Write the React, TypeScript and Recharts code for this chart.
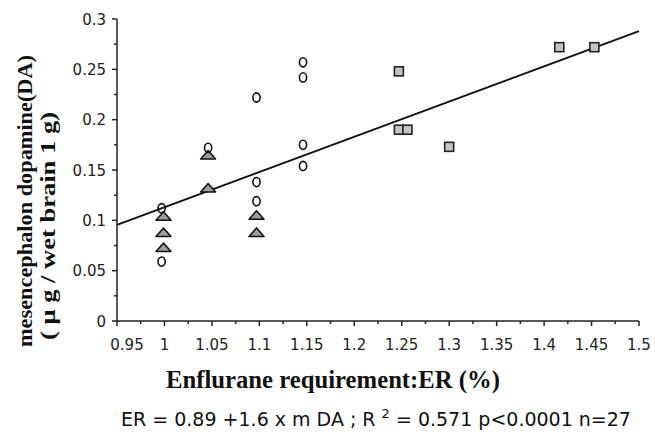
import { ScatterChart, Scatter, XAxis, YAxis, ReferenceLine } from 'recharts';

// open circles
const circleER = [0.997, 0.997, 1.046, 1.097, 1.097, 1.097, 1.146, 1.146, 1.146, 1.146];
const circleDA = [0.112, 0.059, 0.172, 0.222, 0.138, 0.119, 0.257, 0.242, 0.175, 0.154];

// grey triangles
const triangleER = [0.999, 0.999, 0.999, 1.046, 1.046, 1.097, 1.097];
const triangleDA = [0.104, 0.088, 0.073, 0.165, 0.132, 0.105, 0.088];

// grey squares
const squareER = [1.247, 1.247, 1.256, 1.3, 1.416, 1.453];
const squareDA = [0.248, 0.19, 0.19, 0.173, 0.272, 0.272];

// regression line end points
const fitER = [0.95, 1.5];
const fitDA = [0.0955, 0.288];

const xMajorTicks = [0.95, 1, 1.05, 1.1, 1.15, 1.2, 1.25, 1.3, 1.35, 1.4, 1.45, 1.5];
const xTickLabels = ['0.95', '1', '1.05', '1.1', '1.15', '1.2', '1.25', '1.3', '1.35', '1.4', '1.45', '1.5'];
const xMinorTicks = [0.975, 1.025, 1.075, 1.125, 1.175, 1.225, 1.275, 1.325, 1.375, 1.425, 1.475];

const yMajorTicks = [0, 0.05, 0.1, 0.15, 0.2, 0.25, 0.3];
const yTickLabels = ['0', '0.05', '0.1', '0.15', '0.2', '0.25', '0.3'];
const yMinorTicks = [0.025, 0.075, 0.125, 0.175, 0.225, 0.275];

const toPoints = (xs: number[], ys: number[]) => xs.map((x, i) => ({ x, y: ys[i] }));

const SANS = '"DejaVu Sans", Verdana, sans-serif';
const SERIF = '"Liberation Serif", "Times New Roman", serif';
const AXIS = '#222';

function labelFor(value: number, ticks: number[], labels: string[]) {
  const i = ticks.findIndex(t => Math.abs(t - value) < 1e-6);
  return i >= 0 ? labels[i] : null;
}

function XTick(props: any) {
  const { x, y, payload } = props;
  const label = labelFor(payload.value, xMajorTicks, xTickLabels);
  const major = label !== null;
  // first label sits a bit right of its tick, clear of the y axis
  const dx = payload.value === 0.95 ? 10 : 0;
  return (
    <g>
      <line x1={x} y1={y} x2={x} y2={y + (major ? 5 : 3)} stroke={AXIS} strokeWidth={1.5} />
      {major && (
        <text x={x + dx} y={y + 29} textAnchor="middle" fontFamily={SANS} fontSize={15} fill="#222">
          {label}
        </text>
      )}
    </g>
  );
}

function YTick(props: any) {
  const { x, y, payload } = props;
  const label = labelFor(payload.value, yMajorTicks, yTickLabels);
  const major = label !== null;
  return (
    <g>
      <line x1={x} y1={y} x2={x - (major ? 5 : 3)} y2={y} stroke={AXIS} strokeWidth={1.5} />
      {major && (
        <text x={x - 11} y={y} dy={5.5} textAnchor="end" fontFamily={SANS} fontSize={15} fill="#222">
          {label}
        </text>
      )}
    </g>
  );
}

const Ring = (props: any) => (
  <ellipse cx={props.cx} cy={props.cy} rx={3.6} ry={4.6} fill="#fff" fillOpacity={0} stroke="#111" strokeWidth={1.6} />
);

const Triangle = (props: any) => {
  const { cx, cy } = props;
  return (
    <polygon
      points={`${cx - 7.5},${cy + 4} ${cx + 7.5},${cy + 4} ${cx},${cy - 4.5}`}
      fill="#9c9c9c"
      stroke="#111"
      strokeWidth={1.5}
      strokeLinejoin="round"
    />
  );
};

const Square = (props: any) => (
  <rect x={props.cx - 4.5} y={props.cy - 4.5} width={9} height={9} fill="#c4c4c4" stroke="#222" strokeWidth={1.6} />
);

export default function App() {
  const allXTicks = [...xMajorTicks, ...xMinorTicks].sort((a, b) => a - b);
  const allYTicks = [...yMajorTicks, ...yMinorTicks].sort((a, b) => a - b);

  return (
    <div style={{ position: 'absolute', left: 0, top: 0, width: 655, height: 432, background: '#fff' }}>
      <ScatterChart width={655} height={432} margin={{ top: 19, right: 16, bottom: 81, left: 57 }}>
        <XAxis
          type="number"
          dataKey="x"
          domain={[0.95, 1.5]}
          ticks={allXTicks}
          interval={0}
          tickSize={0}
          tickMargin={0}
          tickLine={false}
          tick={<XTick />}
          axisLine={{ stroke: AXIS, strokeWidth: 1.5 }}
          height={30}
          allowDataOverflow
        />
        <YAxis
          type="number"
          dataKey="y"
          domain={[0, 0.3]}
          ticks={allYTicks}
          interval={0}
          tickSize={0}
          tickMargin={0}
          tickLine={false}
          tick={<YTick />}
          axisLine={{ stroke: AXIS, strokeWidth: 1.5 }}
          width={60}
          allowDataOverflow
        />
        <ReferenceLine
          segment={toPoints(fitER, fitDA)}
          stroke="#111"
          strokeWidth={2}
          ifOverflow="visible"
        />
        <Scatter data={toPoints(squareER, squareDA)} shape={<Square />} isAnimationActive={false} />
        <Scatter data={toPoints(triangleER, triangleDA)} shape={<Triangle />} isAnimationActive={false} />
        <Scatter data={toPoints(circleER, circleDA)} shape={<Ring />} isAnimationActive={false} />
      </ScatterChart>
      <svg width={655} height={432} style={{ position: 'absolute', left: 0, top: 0, pointerEvents: 'none' }}>
        <g fontFamily={SERIF} fontWeight="bold" fontSize={22} fill="#111">
          <text transform="translate(32,201) rotate(-90)" textAnchor="middle" textLength={292} lengthAdjust="spacingAndGlyphs">
            mesencephalon dopamine(DA)
          </text>
          <text transform="translate(55,226) rotate(-90)" textAnchor="middle" textLength={228} lengthAdjust="spacingAndGlyphs">
            ( μ g / wet brain 1 g)
          </text>
        </g>
        <text
          x={333}
          y={388}
          textAnchor="middle"
          fontFamily={SERIF}
          fontWeight="bold"
          fontSize={25}
          fill="#111"
          textLength={334}
          lengthAdjust="spacingAndGlyphs"
        >
          Enflurane requirement:ER (%)
        </text>
        <text x={376} y={426} textAnchor="middle" fontFamily={SANS} fontSize={19} fill="#111">
          ER = 0.89 +1.6 x m DA ; R <tspan fontSize={13} dy={-8}>2</tspan>
          <tspan dy={8}> = 0.571 p&lt;0.0001 n=27</tspan>
        </text>
      </svg>
    </div>
  );
}
